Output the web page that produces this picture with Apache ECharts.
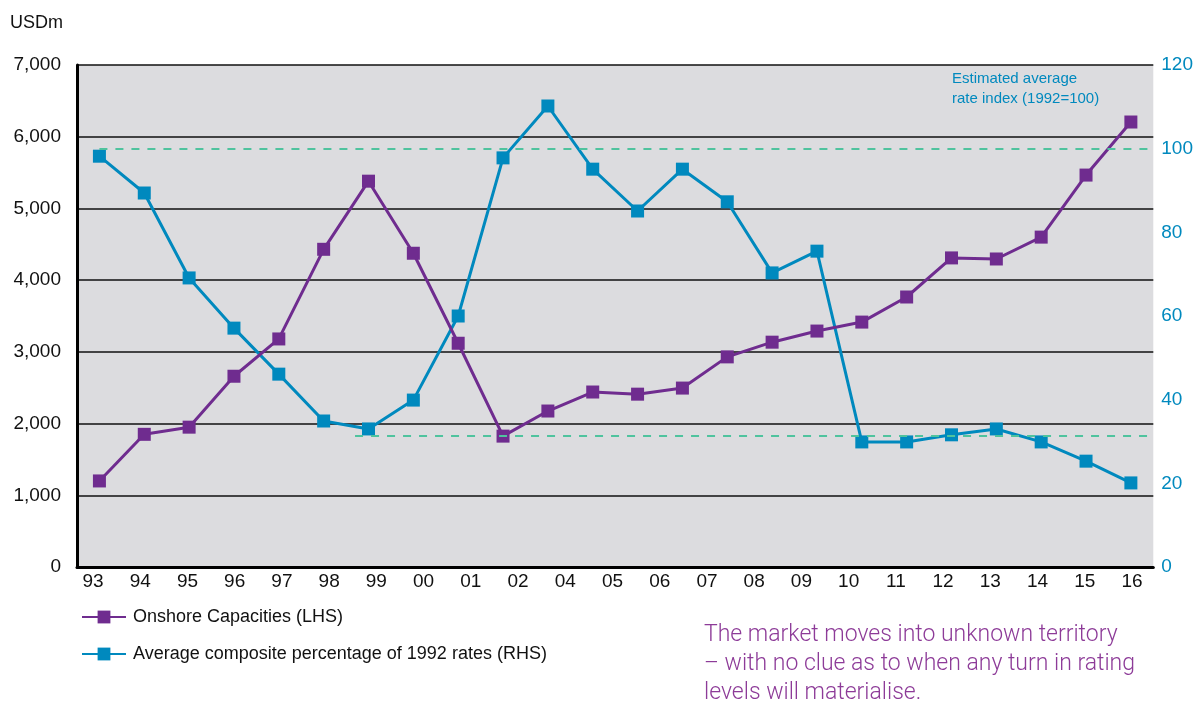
<!DOCTYPE html>
<html>
<head>
<meta charset="utf-8">
<title>Onshore capacities vs rates</title>
<script src="https://cdn.jsdelivr.net/npm/echarts@6/dist/echarts.min.js"></script>
<style>
html, body { margin: 0; padding: 0; background: #fff; }
#chart { width: 1196px; height: 702px; }
</style>
</head>
<body>
<div id="chart"></div>
<script>
// tick labels under the plot (03 is not printed in the source)
var yearLabels = ['93','94','95','96','97','98','99','00','01','02','04','05','06','07','08','09','10','11','12','13','14','15','16'];
// Onshore Capacities, USDm (LHS)
var capacities = [1200,1850,1950,2660,3180,4430,5380,4375,3120,1825,2175,2440,2410,2495,2930,3135,3290,3415,3765,4310,4295,4600,5465,6205];
// Average composite percentage of 1992 rates (RHS)
var rateIndex = [98.2,89.4,69.1,57.1,46.1,34.9,33.0,39.9,60.0,97.8,110.2,95.1,85.1,95.1,87.3,70.3,75.5,29.9,29.9,31.6,33.0,29.9,25.3,20.1];
var leftTicks = [0,1000,2000,3000,4000,5000,6000,7000];
var rightTicks = [0,20,40,60,80,100,120];
var refHigh = 100;
var refLow = 31.3;

var purple = '#6f2c8f';
var blue = '#0089be';
var green = '#4fc39e';
var font = 'Liberation Sans';

function pairs(arr) {
	return arr.map(function (v, i) { return [i, v]; });
}

var chart = echarts.init(document.getElementById('chart'));
chart.setOption({
	backgroundColor: '#fff',
	animation: false,
	textStyle: { fontFamily: font },
	grid: [
		{ left: 77, right: 41, top: 65, bottom: 135, show: true, backgroundColor: '#dcdcdf', borderWidth: 0 },
		{ left: 93, right: 64, top: 65, bottom: 135 }
	],
	legend: {
		orient: 'vertical',
		left: 76,
		top: 603,
		itemWidth: 44,
		itemHeight: 16,
		itemGap: 19,
		textStyle: { fontSize: 18, color: '#111', fontFamily: font, padding: [0, 0, 0, 2] },
		data: ['Onshore Capacities (LHS)', 'Average composite percentage of 1992 rates (RHS)']
	},
	xAxis: [
		{
			type: 'value', gridIndex: 0, min: -0.5, max: 23.5,
			axisLine: { show: true, onZero: false, lineStyle: { color: '#000', width: 3 } },
			axisTick: { show: false }, axisLabel: { show: false }, splitLine: { show: false }
		},
		{
			type: 'category', gridIndex: 1, boundaryGap: false, data: yearLabels,
			axisLine: { show: false }, axisTick: { show: false }, splitLine: { show: false },
			axisLabel: { color: '#111', fontSize: 19, margin: 5, interval: 0 }
		}
	],
	yAxis: [
		{
			type: 'value', gridIndex: 0, min: 0, max: 7000, interval: 1000,
			axisLine: { show: true, onZero: false, lineStyle: { color: '#000', width: 3 } },
			axisTick: { show: false },
			splitLine: { show: true, lineStyle: { color: '#111', width: 1.5 } },
			axisLabel: {
				color: '#111', fontSize: 19, margin: 16,
				formatter: function (v) { return leftTicks.indexOf(v) >= 0 ? v.toLocaleString('en-US') : ''; }
			}
		},
		{
			type: 'value', gridIndex: 0, position: 'right', min: 0, max: 120, interval: 20,
			axisLine: { show: false, onZero: false }, axisTick: { show: false }, splitLine: { show: false },
			axisLabel: {
				color: blue, fontSize: 19, margin: 8,
				formatter: function (v) { return rightTicks.indexOf(v) >= 0 ? String(v) : ''; }
			}
		},
		{ type: 'value', gridIndex: 1, show: false }
	],
	graphic: [
		{ type: 'text', left: 10, top: 14, style: { text: 'USDm', fontSize: 18, fontFamily: font, fill: '#111' } },
		{
			type: 'text', left: 952, top: 69,
			style: { text: 'Estimated average\nrate index (1992=100)', fontSize: 15, lineHeight: 20, fontFamily: font, fill: blue }
		},
		{
			type: 'text', left: 704, top: 621,
			style: {
				text: 'The market moves into unknown territory\n\u2013 with no clue as to when any turn in rating\nlevels will materialise.',
				fontSize: 23, lineHeight: 29, fontFamily: 'Roboto', fontWeight: 300, fill: '#8d3b98'
			}
		}
	],
	series: [
		{
			name: 'Average composite percentage of 1992 rates (RHS)',
			type: 'line', xAxisIndex: 0, yAxisIndex: 1,
			data: pairs(rateIndex),
			symbol: 'rect', symbolSize: 13,
			lineStyle: { color: blue, width: 3 },
			itemStyle: { color: blue },
			z: 3,
			markLine: {
				silent: true, symbol: ['none', 'none'],
				label: { show: false },
				lineStyle: { color: green, width: 2, type: [8, 8] },
				data: [
					[{ coord: [0, refHigh] }, { coord: [23.4, refHigh] }],
					[{ coord: [5.7, refLow] }, { coord: [23.4, refLow] }]
				]
			}
		},
		{
			name: 'Onshore Capacities (LHS)',
			type: 'line', xAxisIndex: 0, yAxisIndex: 0,
			data: pairs(capacities),
			symbol: 'rect', symbolSize: 13,
			lineStyle: { color: purple, width: 3 },
			itemStyle: { color: purple },
			z: 4
		}
	]
});
</script>
</body>
</html>
